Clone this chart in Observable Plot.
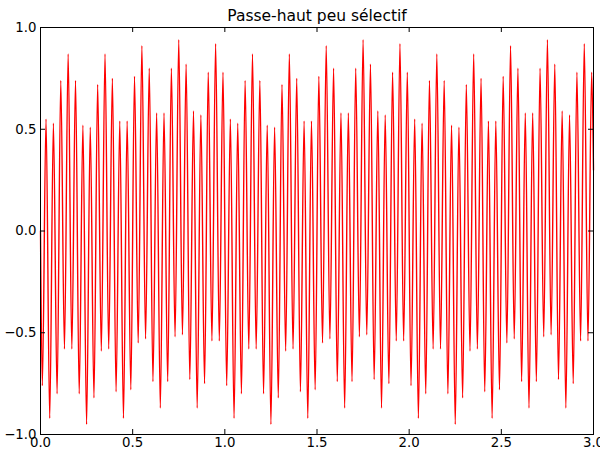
<!DOCTYPE html>
<html><head><meta charset="utf-8">
<script src="https://cdn.jsdelivr.net/npm/d3@7"></script>
<script src="https://cdn.jsdelivr.net/npm/@observablehq/plot@0.6"></script>
<style>body{margin:0;background:#fff} svg{display:block}</style>
</head><body><div id="chart"></div>
<script>
const title = "Passe-haut peu sélectif";
const xTicks = [0, 0.5, 1.0, 1.5, 2.0, 2.5, 3.0];
const yTicks = [-1.0, -0.5, 0.0, 0.5, 1.0];

// Local maxima (one every 0.04 s, first at t = 0.03)
const peaks = [
  0.55, 0.53, 0.74, 0.87, 0.74, 0.52, 0.51, 0.72, 0.87, 0.75, 0.54, 0.54, 0.76, 0.91, 0.80, 0.58, 0.58, 0.80, 0.94, 0.82, 0.59, 0.57, 0.78, 0.92, 0.78,
  0.55, 0.53, 0.74, 0.87, 0.74, 0.52, 0.51, 0.72, 0.87, 0.75, 0.54, 0.54, 0.76, 0.91, 0.80, 0.58, 0.58, 0.80, 0.94, 0.82, 0.59, 0.57, 0.78, 0.92, 0.78,
  0.55, 0.53, 0.74, 0.87, 0.74, 0.52, 0.51, 0.72, 0.87, 0.75, 0.54, 0.54, 0.76, 0.91, 0.80, 0.58, 0.58, 0.80, 0.94, 0.82, 0.59, 0.57, 0.78, 0.92, 0.78
];
// Local minima (one every 0.04 s, first at t = 0.01)
const troughs = [
  -0.76, -0.92, -0.80, -0.58, -0.58, -0.80, -0.95, -0.82, -0.59, -0.58, -0.79, -0.92, -0.78, -0.55, -0.53, -0.74, -0.87, -0.74, -0.52, -0.51, -0.73, -0.87, -0.75, -0.54, -0.54,
  -0.76, -0.92, -0.80, -0.58, -0.58, -0.80, -0.95, -0.82, -0.59, -0.58, -0.79, -0.92, -0.78, -0.55, -0.53, -0.74, -0.87, -0.74, -0.52, -0.51, -0.73, -0.87, -0.75, -0.54, -0.54,
  -0.76, -0.92, -0.80, -0.58, -0.58, -0.80, -0.95, -0.82, -0.59, -0.58, -0.79, -0.92, -0.78, -0.55, -0.53, -0.74, -0.87, -0.74, -0.52, -0.51, -0.73, -0.87, -0.75, -0.54, -0.54
];
const startValue = 0.0;
const endValue = 0.3;

const points = [{t: 0, v: startValue}];
for (let i = 0; i < peaks.length; i++) {
  points.push({t: +(0.01 + 0.04 * i).toFixed(3), v: troughs[i]});
  points.push({t: +(0.03 + 0.04 * i).toFixed(3), v: peaks[i]});
}
points.push({t: 3.0, v: endValue});

const W = 600, H = 454, mL = 40, mR = 7, mT = 27, mB = 20;
const pw = W - mL - mR, ph = H - mT - mB, tk = 5;
const fmt = d3.format(".1f");

const chart = Plot.plot({
  width: W, height: H,
  marginLeft: mL, marginRight: mR, marginTop: mT, marginBottom: mB,
  style: {fontFamily: "DejaVu Sans, sans-serif", fontSize: "13px", background: "white", color: "black", overflow: "visible"},
  x: {domain: [0, 3]},
  y: {domain: [-1, 1]},
  marks: [
    Plot.line(points, {x: "t", y: "v", stroke: "#ff0000", strokeWidth: 1.4, curve: "monotone-x"}),
    Plot.tickX(xTicks, {x: d => d, insetTop: ph - tk, stroke: "black"}),
    Plot.tickX(xTicks, {x: d => d, insetBottom: ph - tk, stroke: "black"}),
    Plot.tickY(yTicks, {y: d => d, insetRight: pw - tk, stroke: "black"}),
    Plot.tickY(yTicks, {y: d => d, insetLeft: pw - tk, stroke: "black"}),
    Plot.axisX(xTicks, {tickSize: 0, tickPadding: 3, tickFormat: fmt, fontSize: 13.3, label: null}),
    Plot.axisY(yTicks, {tickSize: 0, tickPadding: 4, tickFormat: fmt, fontSize: 13.3, label: null}),
    Plot.frame({stroke: "black"}),
    Plot.text([title], {text: d => d, frameAnchor: "top", dy: -7, lineAnchor: "bottom", fontSize: 15.5})
  ]
});
document.getElementById("chart").appendChild(chart);
</script>
</body></html>
